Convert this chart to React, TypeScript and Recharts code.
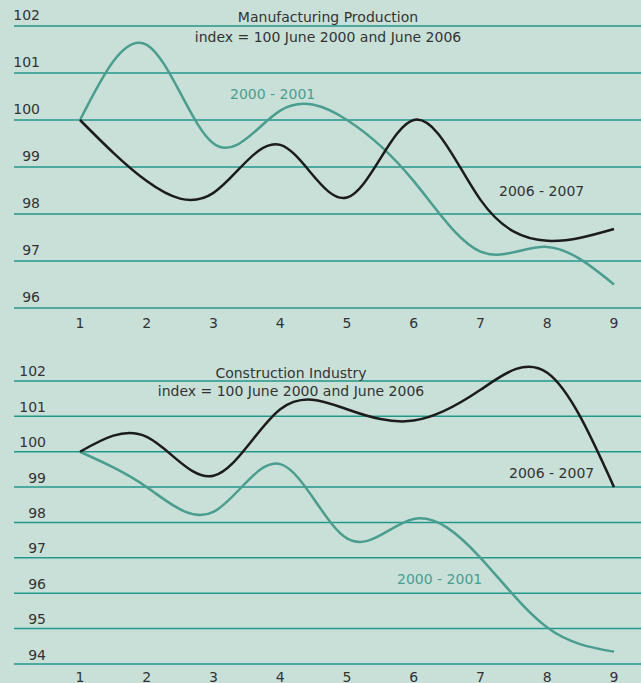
import React from 'react';
import { LineChart, Line, XAxis, YAxis, CartesianGrid } from 'recharts';

const months = [1, 2, 3, 4, 5, 6, 7, 8, 9];

const mfg2000 = [100, 101.6, 99.5, 100.2, 100.0, 98.7, 97.2, 97.3, 96.5];
const mfg2006 = [100, 98.7, 98.45, 99.47, 98.35, 100.0, 98.3, 97.43, 97.68];
const mfgTicks = [96, 97, 98, 99, 100, 101, 102];

const con2000 = [100, 99.0, 98.3, 99.65, 97.55, 98.1, 97.0, 95.03, 94.35];
const con2006 = [100, 100.42, 99.32, 101.2, 101.2, 100.88, 101.75, 102.23, 99.0];
const conTicks = [94, 95, 96, 97, 98, 99, 100, 101, 102];

const BG = '#c9e0d9';
const GRID = '#23978a';
const TEAL = '#4a9d8f';
const DARK = '#1c1c1c';
const TEXT = '#333333';
const FONT = '"DejaVu Sans", sans-serif';

const mfgData = months.map((m, i) => ({ m, a: mfg2000[i], b: mfg2006[i] }));
const conData = months.map((m, i) => ({ m, a: con2000[i], b: con2006[i] }));

const YTick = ({ y, payload, right, lift }: any) => (
  <text x={right} y={y - lift} textAnchor="end" fill={TEXT} fontSize={14} fontFamily={FONT}>
    {payload.value}
  </text>
);

const XTick = ({ x, y, payload, dy }: any) => (
  <text x={x} y={y + dy} textAnchor="middle" fill={TEXT} fontSize={14} fontFamily={FONT}>
    {payload.value}
  </text>
);

const Panel = ({ data, ticks, domain, height, top, marginTop, tickRight, lift, xHeight, xdy }: any) => (
  <div style={{ position: 'absolute', left: 0, top }}>
    <LineChart width={641} height={height} data={data} margin={{ top: marginTop, right: 0, bottom: 0, left: 0 }}>
      <CartesianGrid vertical={false} horizontalValues={ticks} stroke={GRID} strokeWidth={1.5} />
      <XAxis
        dataKey="m"
        type="number"
        domain={[1, 9]}
        ticks={months}
        padding={{ left: 66, right: 27 }}
        axisLine={false}
        tickLine={false}
        height={xHeight}
        tick={<XTick dy={xdy} />}
      />
      <YAxis
        width={14}
        domain={domain}
        ticks={ticks}
        axisLine={false}
        tickLine={false}
        tick={<YTick right={tickRight} lift={lift} />}
        interval={0}
      />
      <Line type="natural" dataKey="a" stroke={TEAL} strokeWidth={2.5} dot={false} isAnimationActive={false} />
      <Line type="natural" dataKey="b" stroke={DARK} strokeWidth={2.5} dot={false} isAnimationActive={false} />
    </LineChart>
  </div>
);

const Annotations = () => (
  <svg width={641} height={683} style={{ position: 'absolute', left: 0, top: 0, pointerEvents: 'none' }} fontFamily={FONT}>
    <text x={328} y={22} textAnchor="middle" fill={TEXT} fontSize={14}>Manufacturing Production</text>
    <text x={328} y={41.5} textAnchor="middle" fill={TEXT} fontSize={14}>index = 100 June 2000 and June 2006</text>
    <text x={291} y={378} textAnchor="middle" fill={TEXT} fontSize={14}>Construction Industry</text>
    <text x={291} y={396} textAnchor="middle" fill={TEXT} fontSize={14}>index = 100 June 2000 and June 2006</text>
    <text x={230} y={98.5} fill={TEAL} fontSize={14}>2000 - 2001</text>
    <text x={499} y={196} fill={TEXT} fontSize={14}>2006 - 2007</text>
    <text x={509} y={477.5} fill={TEXT} fontSize={14}>2006 - 2007</text>
    <text x={397} y={584} fill={TEAL} fontSize={14}>2000 - 2001</text>
  </svg>
);

export default function App() {
  return (
    <div style={{ position: 'absolute', left: 0, top: 0, width: 641, height: 683, background: BG, overflow: 'hidden' }}>
      <Panel data={mfgData} ticks={mfgTicks} domain={[96, 102]} height={340} top={0} marginTop={26}
        tickRight={40} lift={6} xHeight={32} xdy={12} />
      <Panel data={conData} ticks={conTicks} domain={[94, 102.5]} height={343} top={340} marginTop={23.3}
        tickRight={46} lift={4.5} xHeight={19} xdy={9.5} />
      <Annotations />
    </div>
  );
}
